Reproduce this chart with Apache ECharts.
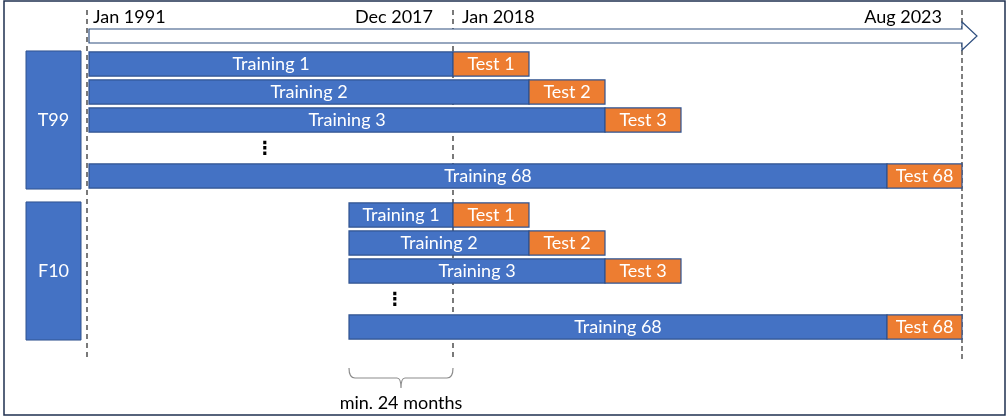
<!DOCTYPE html>
<html><head><meta charset="utf-8">
<script src="https://cdn.jsdelivr.net/npm/echarts@6/dist/echarts.min.js"></script>
<style>html,body{margin:0;padding:0;background:#fff}#c{width:1008px;height:418px}</style>
</head><body><div id="c"></div>
<script>
// ---- data (schematic time units; Jan 1991 = 0) ----
const groups = ['T99', 'F10'];
const rowNames = ['1', '2', '3', '⋮', '68'];
const trainStart = [0, 260];                 // training window start per group
const trainEnd = [364, 440, 516, null, 798]; // = test start, per row
const testEnd = [440, 516, 592, null, 873];
const timeTicks = ['Jan 1991', 'Dec 2017', 'Jan 2018', 'Aug 2023'];
const timeTickPos = [0, 364, 364, 873];
const boundaries = [0, 364, 873];
const minTrainLabel = 'min. 24 months';

// ---- build ----
const FONT = 'Lato, "DejaVu Sans", sans-serif';
const BLUE = '#4472c4', ORANGE = '#ed7d31', EDGE = '#2f528f';
const grids = [
  {left: 5, width: 1000, top: 10, height: 350},   // overlay (dashed lines)
  {left: 5, width: 1000, top: 22, height: 28},    // timeline arrow
  {left: 5, width: 1000, top: 50, height: 140},   // T99
  {left: 5, width: 1000, top: 201, height: 140},  // F10
  {left: 5, width: 1000, top: 366, height: 46}    // brace
];
const xAxes = grids.map((g, i) => ({type: 'value', gridIndex: i, min: -84, max: 916, show: false}));
const yAxes = grids.map((g, i) => (i === 2 || i === 3)
  ? {type: 'category', gridIndex: i, data: rowNames, inverse: true, show: false}
  : {type: 'value', gridIndex: i, min: 0, max: 1, show: false});

const barData = [[], []];
groups.forEach((g, gi) => {
  rowNames.forEach((r, ri) => {
    if (trainEnd[ri] == null) {
      barData[gi].push([trainStart[gi], trainEnd[0], ri, '⋮', 'dots']);
    } else {
      barData[gi].push([trainStart[gi], trainEnd[ri], ri, 'Training ' + r, 'train']);
      barData[gi].push([trainEnd[ri], testEnd[ri], ri, 'Test ' + r, 'test']);
    }
  });
});

function renderBar(params, api) {
  const kind = api.value(4);
  const label = api.value(3);
  const s = api.coord([api.value(0), api.value(2)]);
  const e = api.coord([api.value(1), api.value(2)]);
  if (kind === 'dots') {
    return {type: 'text', x: (s[0] + e[0]) / 2 - 6, y: s[1],
      style: {text: label, fill: '#000', font: 'bold 18px ' + FONT, align: 'center', verticalAlign: 'middle'}};
  }
  const h = api.size([0, 1])[1] * 0.86;
  return {type: 'rect',
    shape: {x: s[0], y: s[1] - h / 2, width: e[0] - s[0], height: h},
    style: {fill: kind === 'train' ? BLUE : ORANGE, stroke: EDGE, lineWidth: 1.2},
    textContent: {style: {text: label, fill: '#fff', font: '18px ' + FONT}},
    textConfig: {position: 'inside'}};
}

function renderGroupBox(gi) {
  return function (params, api) {
    const top = api.coord([0, 0]);
    const bot = api.coord([0, rowNames.length - 1]);
    const h = api.size([0, 1])[1] * 0.86;
    const x0 = api.coord([-63, 0])[0], x1 = api.coord([-8, 0])[0];
    return {type: 'rect',
      shape: {x: x0, y: top[1] - h / 2 - 1, width: x1 - x0, height: bot[1] - top[1] + h + 2},
      style: {fill: BLUE, stroke: EDGE, lineWidth: 1},
      textContent: {style: {text: groups[gi], fill: '#fff', font: '18px ' + FONT}},
      textConfig: {position: 'inside'}};
  };
}

function renderBoundary(params, api) {
  const x = api.coord([api.value(0), 0])[0];
  const cs = params.coordSys;
  const i = params.dataIndex;
  const last = i === boundaries.length - 1;
  const off = i === 0 ? -2 : 0;
  return {type: 'line',
    shape: {x1: x + off, y1: cs.y, x2: x + off, y2: cs.y + cs.height},
    style: {stroke: last ? '#7f7f7f' : '#222', lineWidth: last ? 2 : 1.2, lineDash: last ? [5, 3] : [5, 4]}};
}

function renderArrow(params, api) {
  const a = api.coord([api.value(0), 0])[0];
  const b = api.coord([api.value(1), 0])[0];
  const cs = params.coordSys;
  const cy = cs.y + cs.height / 2;
  const bh = 7, hh = 14, hl = 15;
  return {type: 'polygon',
    shape: {points: [[a, cy - bh], [b, cy - bh], [b, cy - hh], [b + hl, cy], [b, cy + hh], [b, cy + bh], [a, cy + bh]]},
    style: {fill: '#fff', stroke: '#2f4f7f', lineWidth: 1.2}};
}

function renderTick(params, api) {
  const i = params.dataIndex;
  const x = api.coord([api.value(0), 0])[0];
  const cs = params.coordSys;
  const rightAligned = (i < timeTicks.length - 1 && timeTickPos[i + 1] === timeTickPos[i]) || i === timeTicks.length - 1;
  return {type: 'text', x: rightAligned ? x - 20 : x + (i === 0 ? 4 : 9), y: cs.y + 4,
    style: {text: timeTicks[i], fill: '#000', font: '18px ' + FONT, align: rightAligned ? 'right' : 'left', verticalAlign: 'bottom'}};
}

function renderBrace(params, api) {
  const a = api.coord([api.value(0), 0])[0];
  const b = api.coord([api.value(1), 0])[0];
  const cs = params.coordSys;
  const y0 = cs.y + 2, m = (a + b) / 2, y1 = y0 + 10, y2 = y0 + 20;
  return {type: 'group', children: [
    {type: 'path', shape: {pathData:
      `M${a},${y0} Q${a},${y1} ${a + 6},${y1} L${m - 4},${y1} Q${m},${y1} ${m},${y2} Q${m},${y1} ${m + 4},${y1} L${b - 6},${y1} Q${b},${y1} ${b},${y0}`},
      style: {fill: 'none', stroke: '#8c8c8c', lineWidth: 1.2}},
    {type: 'text', x: m, y: y2 + 15, style: {text: minTrainLabel, fill: '#000', font: '18px ' + FONT, align: 'center', verticalAlign: 'middle'}}
  ]};
}

const option = {
  animation: false,
  grid: grids,
  xAxis: xAxes,
  yAxis: yAxes,
  graphic: [{type: 'rect', shape: {x: 4, y: 1, width: 1001, height: 414}, style: {fill: 'none', stroke: '#1f3050', lineWidth: 1.5}, silent: true}],
  series: [
    {type: 'custom', xAxisIndex: 0, yAxisIndex: 0, data: boundaries.map(v => [v]), renderItem: renderBoundary, z: 1},
    {type: 'custom', xAxisIndex: 1, yAxisIndex: 1, data: [[timeTickPos[0], timeTickPos[timeTickPos.length - 1]]], renderItem: renderArrow, z: 2, clip: false},
    {type: 'custom', xAxisIndex: 1, yAxisIndex: 1, data: timeTickPos.map(v => [v]), renderItem: renderTick, z: 3, clip: false},
    {type: 'custom', xAxisIndex: 2, yAxisIndex: 2, data: [[0]], renderItem: renderGroupBox(0), z: 3, clip: false},
    {type: 'custom', xAxisIndex: 3, yAxisIndex: 3, data: [[0]], renderItem: renderGroupBox(1), z: 3, clip: false},
    {type: 'custom', xAxisIndex: 2, yAxisIndex: 2, data: barData[0], renderItem: renderBar, z: 3, clip: false},
    {type: 'custom', xAxisIndex: 3, yAxisIndex: 3, data: barData[1], renderItem: renderBar, z: 3, clip: false},
    {type: 'custom', xAxisIndex: 4, yAxisIndex: 4, data: [[trainStart[1], trainEnd[0]]], renderItem: renderBrace, z: 3, clip: false}
  ]
};
echarts.init(document.getElementById('c'), null, {renderer: 'canvas'}).setOption(option);
</script></body></html>
